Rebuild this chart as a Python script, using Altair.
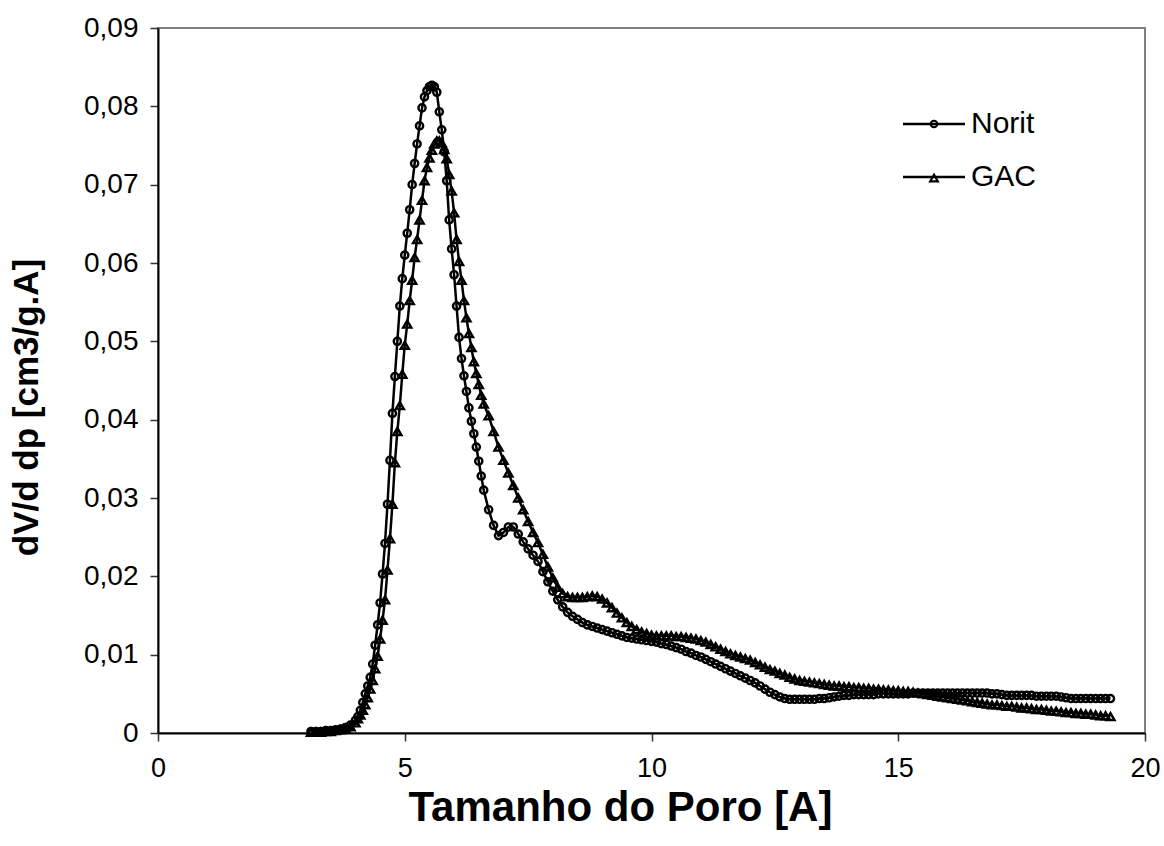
import altair as alt
import pandas as pd

# ---------------- data ----------------
pore_a = [3.1, 3.2, 3.3, 3.4, 3.5, 3.6, 3.7, 3.8, 3.9, 4.0]
pore_b = [4.05, 4.1, 4.15, 4.2, 4.25, 4.3, 4.35, 4.4, 4.45, 4.5,
          4.55, 4.6, 4.65, 4.7, 4.75, 4.8, 4.85, 4.9, 4.95, 5.0,
          5.05, 5.1, 5.15, 5.2, 5.25, 5.3, 5.35, 5.4, 5.45, 5.5,
          5.55, 5.6, 5.65, 5.7, 5.75, 5.8, 5.85, 5.9, 5.95, 6.0,
          6.05, 6.1, 6.15, 6.2, 6.25, 6.3, 6.35, 6.4, 6.45, 6.5,
          6.55, 6.6]
pore_c = [round(6.7 + 0.1 * i, 2) for i in range(127)]  # 6.7 ... 19.3
pore_size = pore_a + pore_b + pore_c

norit = [
    0.0002, 0.0002, 0.0002, 0.0003, 0.0003, 0.0004, 0.0005, 0.0007, 0.0010, 0.0016,
    # 4.05 - 6.60
    0.0021, 0.0029, 0.0039, 0.0050, 0.0060, 0.0071, 0.0088, 0.0112, 0.0138, 0.0166,
    0.0203, 0.0242, 0.0292, 0.0348, 0.0408, 0.0455, 0.0500, 0.0545, 0.0580, 0.0610,
    0.0638, 0.0668, 0.0700, 0.0727, 0.0752, 0.0775, 0.0798, 0.0812, 0.0820, 0.0825,
    0.0827, 0.0825, 0.0818, 0.0793, 0.0770, 0.0742, 0.0705, 0.0655, 0.0618, 0.0585,
    0.0545, 0.0505, 0.0478, 0.0456, 0.0436, 0.0415, 0.0398, 0.0382, 0.0365, 0.0347,
    0.0328, 0.0310,
    # 6.7 - 19.3
    0.0285, 0.0265, 0.0252, 0.0256, 0.0263, 0.0263, 0.0254, 0.0244, 0.0235, 0.0227,
    0.0219, 0.0206, 0.0193, 0.0181, 0.0170, 0.0161, 0.0154, 0.0149, 0.0145, 0.0141,
    0.0138, 0.0136, 0.0134, 0.0132, 0.0130, 0.0128, 0.0126, 0.0124, 0.0122, 0.0121,
    0.0120, 0.0119, 0.0118, 0.0117, 0.0116, 0.0114, 0.0113, 0.0111, 0.0109, 0.0107,
    0.0104, 0.0102, 0.0099, 0.0097, 0.0094, 0.0091, 0.0088, 0.0085, 0.0082, 0.0079,
    0.0076, 0.0073, 0.0070, 0.0067, 0.0064, 0.0060, 0.0056, 0.0052, 0.0049, 0.0046,
    0.0044, 0.0043, 0.0043, 0.0043, 0.0043, 0.0043, 0.0043, 0.0044, 0.0044, 0.0045,
    0.0046, 0.0047, 0.0048, 0.0048, 0.0049, 0.0049, 0.0049, 0.0049, 0.0049, 0.0050,
    0.0050, 0.0050, 0.0050, 0.0050, 0.0050, 0.0050, 0.0051, 0.0051, 0.0051, 0.0051,
    0.0051, 0.0051, 0.0051, 0.0051, 0.0051, 0.0051, 0.0051, 0.0051, 0.0051, 0.0051,
    0.0051, 0.0051, 0.0050, 0.0050, 0.0049, 0.0048, 0.0048, 0.0048, 0.0048, 0.0048,
    0.0048, 0.0047, 0.0047, 0.0047, 0.0047, 0.0047, 0.0046, 0.0045, 0.0044, 0.0044,
    0.0044, 0.0044, 0.0044, 0.0044, 0.0044, 0.0044, 0.0044,
]

gac = [
    0.0001, 0.0001, 0.0001, 0.0002, 0.0002, 0.0003, 0.0004, 0.0006, 0.0008, 0.0013,
    # 4.05 - 6.60
    0.0018, 0.0023, 0.0029, 0.0036, 0.0045, 0.0056, 0.0067, 0.0082, 0.0098, 0.0120,
    0.0144, 0.0170, 0.0208, 0.0248, 0.0292, 0.0345, 0.0385, 0.0418, 0.0458, 0.0495,
    0.0522, 0.0552, 0.0578, 0.0607, 0.0630, 0.0655, 0.0680, 0.0705, 0.0722, 0.0734,
    0.0744, 0.0752, 0.0756, 0.0756, 0.0753, 0.0745, 0.0733, 0.0713, 0.0692, 0.0664,
    0.0630, 0.0602, 0.0578, 0.0552, 0.0530, 0.0510, 0.0492, 0.0474, 0.0459, 0.0445,
    0.0431, 0.0420,
    # 6.7 - 19.3
    0.0405, 0.0385, 0.0365, 0.0348, 0.0332, 0.0316, 0.0300, 0.0285, 0.0270, 0.0256,
    0.0243, 0.0228, 0.0212, 0.0198, 0.0186, 0.0178, 0.0174, 0.0173, 0.0173, 0.0173,
    0.0174, 0.0175, 0.0174, 0.0171, 0.0166, 0.0160, 0.0153, 0.0147, 0.0141, 0.0136,
    0.0132, 0.0129, 0.0127, 0.0125, 0.0124, 0.0124, 0.0124, 0.0124, 0.0123, 0.0123,
    0.0122, 0.0121, 0.0120, 0.0118, 0.0116, 0.0113, 0.0110, 0.0107, 0.0104, 0.0101,
    0.0099, 0.0097, 0.0095, 0.0093, 0.0090, 0.0087, 0.0084, 0.0081, 0.0079, 0.0076,
    0.0074, 0.0071, 0.0069, 0.0067, 0.0066, 0.0065, 0.0064, 0.0063, 0.0062, 0.0061,
    0.0060, 0.0060, 0.0059, 0.0059, 0.0058, 0.0058, 0.0057, 0.0057, 0.0056, 0.0056,
    0.0055, 0.0055, 0.0054, 0.0054, 0.0053, 0.0053, 0.0052, 0.0051, 0.0050, 0.0049,
    0.0048, 0.0047, 0.0046, 0.0045, 0.0044, 0.0043, 0.0042, 0.0041, 0.0040, 0.0039,
    0.0038, 0.0037, 0.0036, 0.0036, 0.0035, 0.0034, 0.0034, 0.0033, 0.0032, 0.0032,
    0.0031, 0.0030, 0.0030, 0.0029, 0.0028, 0.0028, 0.0027, 0.0026, 0.0026, 0.0025,
    0.0025, 0.0024, 0.0024, 0.0023, 0.0022, 0.0022, 0.0021,
]

series_names = ["Norit", "GAC"]
x_ticks = [0, 5, 10, 15, 20]
y_ticks = [0, 0.01, 0.02, 0.03, 0.04, 0.05, 0.06, 0.07, 0.08, 0.09]

assert len(pore_size) == len(norit) == len(gac)

n = len(pore_size)
df = pd.DataFrame({
    "x": pore_size + pore_size,
    "y": norit + gac,
    "serie": ["Norit"] * n + ["GAC"] * n,
    "order": list(range(n)) + list(range(n)),
})

FONT = "Liberation Sans"
W, H = 987, 705

x_enc = alt.X(
    "x:Q",
    scale=alt.Scale(domain=[0, 20], nice=False, zero=False),
    axis=alt.Axis(
        values=x_ticks, title="Tamanho do Poro [A]", grid=False,
        labelFont=FONT, labelFontSize=27, labelColor="black", labelPadding=14,
        labelFlush=False,
        tickSize=8, tickColor="#333333", tickWidth=1.5,
        domainColor="black", domainWidth=2,
        titleFont=FONT, titleFontSize=42, titleFontWeight="bold", titleColor="black",
        titleX=462, titleY=87, titleBaseline="alphabetic", titleAlign="center",
    ),
)
y_enc = alt.Y(
    "y:Q",
    scale=alt.Scale(domain=[0, 0.09], nice=False),
    axis=alt.Axis(
        values=y_ticks, title="dV/d dp [cm3/g.A]", grid=False,
        labelExpr="datum.value == 0 ? '0' : '0,' + slice(format(datum.value, '.2f'), 2)",
        labelFont=FONT, labelFontSize=28, labelColor="black", labelPadding=12,
        labelFlush=False,
        tickSize=8, tickColor="#333333", tickWidth=1.5,
        domainColor="black", domainWidth=2,
        titleFont=FONT, titleFontSize=35, titleFontWeight="bold", titleColor="black",
        titleX=-132, titleY=379, titleBaseline="middle", titleAlign="center", titleAngle=-90,
    ),
)

base = alt.Chart(df)
lines = base.mark_line(color="black", strokeWidth=2.5).encode(
    x=x_enc, y=y_enc, detail="serie:N", order="order:Q"
)
points = base.mark_point(filled=False, color="black", strokeWidth=2.4, opacity=1).encode(
    x=x_enc, y=y_enc,
    shape=alt.Shape("serie:N", scale=alt.Scale(domain=series_names, range=["circle", "triangle-up"]), legend=None),
    size=alt.Size("serie:N", scale=alt.Scale(domain=series_names, range=[52, 66]), legend=None),
)

# ---------------- hand-drawn legend (top right) ----------------
one = pd.DataFrame({"k": [0]})
leg = []
for name, shape, size, ypos in [("Norit", "circle", 42, 96), ("GAC", "triangle-up", 58, 149)]:
    leg.append(alt.Chart(one).mark_rule(color="black", strokeWidth=2.5).encode(
        x=alt.value(745), x2=alt.value(807), y=alt.value(ypos)))
    leg.append(alt.Chart(one).mark_point(shape=shape, filled=False, color="black",
                                         size=size, strokeWidth=2.2, opacity=1).encode(
        x=alt.value(776), y=alt.value(ypos + (1 if shape != "circle" else 0))))
    leg.append(alt.Chart(one).mark_text(text=name, align="left", baseline="middle",
                                        font=FONT, fontSize=30, color="black").encode(
        x=alt.value(813), y=alt.value(ypos)))

chart = alt.layer(lines, points, *leg).properties(
    width=W, height=H,
    padding={"left": 158, "top": 28, "right": 19, "bottom": 113},
    autosize=alt.AutoSizeParams(type="none"),
    background="white",
).configure_view(stroke="#808080", strokeWidth=2)

chart.save("out.html", embed_options={"renderer": "svg", "actions": False})
